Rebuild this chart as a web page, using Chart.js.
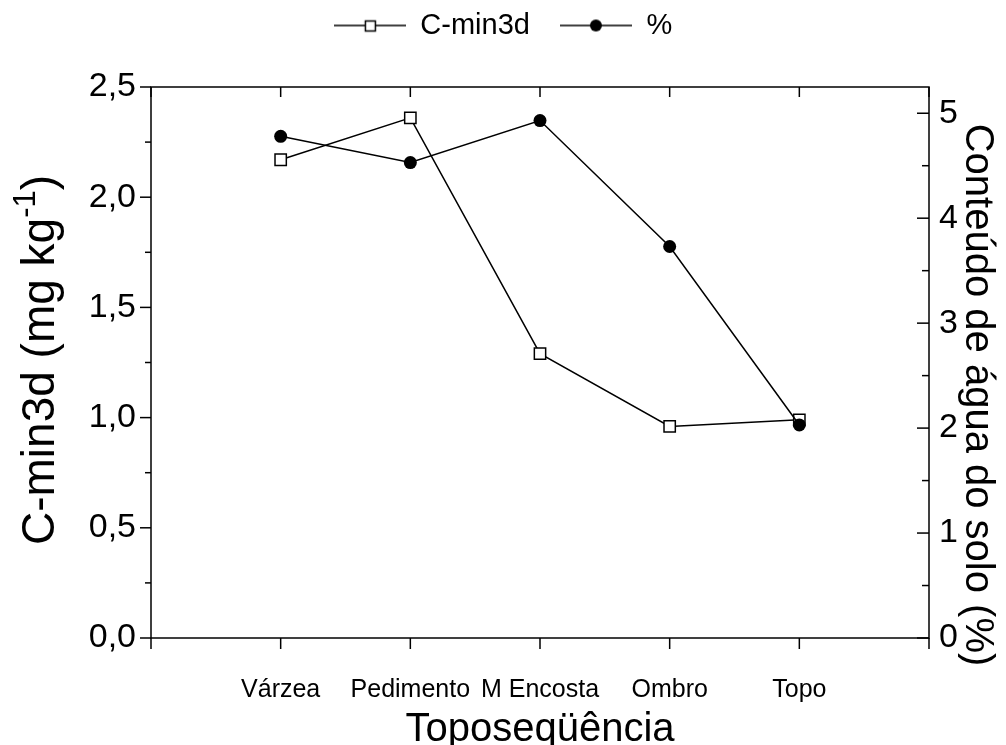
<!DOCTYPE html>
<html>
<head>
<meta charset="utf-8">
<script src="https://cdn.jsdelivr.net/npm/chart.js@4.4.1/dist/chart.umd.min.js"></script>
<style>
  html, body { margin: 0; padding: 0; background: #fff; }
  #wrap { width: 1006px; height: 745px; }
</style>
</head>
<body>
<div id="wrap"><canvas id="myChart"></canvas></div>
<script>
// categorias da toposequencia
const categorias = ['Várzea', 'Pedimento', 'M Encosta', 'Ombro', 'Topo'];
// C-min3d (mg kg-1), eixo esquerdo
const cmin3d = [2.17, 2.36, 1.29, 0.96, 0.99];
// conteudo de agua do solo (%), eixo direito
const agua = [4.78, 4.53, 4.93, 3.73, 2.03];
const yTicks = [0, 0.5, 1, 1.5, 2, 2.5];
const y2Ticks = [0, 1, 2, 3, 4, 5];

// eixo x com posicoes vazias nas pontas
const xLabels = [''].concat(categorias, ['']);

const fonte = "'Liberation Sans', Arial, sans-serif";
Chart.defaults.font.family = fonte;
Chart.defaults.color = '#000';

function legendIcon(style) {
    const c = document.createElement('canvas');
    c.width = 72;
    c.height = 20;
    const g = c.getContext('2d');
    g.strokeStyle = '#000';
    g.lineWidth = 1.5;
    g.beginPath();
    g.moveTo(0, 10);
    g.lineTo(72, 10);
    g.stroke();
    if (style === 'rect') {
        g.fillStyle = '#fff';
        g.fillRect(31.5, 5.5, 10, 10);
        g.strokeRect(31.5, 5.5, 10, 10);
    } else {
        g.fillStyle = '#000';
        g.beginPath();
        g.arc(36, 10, 6, 0, Math.PI * 2);
        g.fill();
    }
    return c;
}
const icons = [legendIcon('rect'), legendIcon('circle')];

// moldura e marcas dos eixos
const moldura = {
    id: 'moldura',
    afterDraw(chart) {
        const { ctx, chartArea: a, scales } = chart;
        ctx.save();
        ctx.strokeStyle = '#000';
        ctx.lineWidth = 1.5;
        ctx.strokeRect(a.left, a.top, a.right - a.left, a.bottom - a.top);
        const seg = (x1, y1, x2, y2) => {
            ctx.beginPath();
            ctx.moveTo(x1, y1);
            ctx.lineTo(x2, y2);
            ctx.stroke();
        };
        for (let i = 0; i <= 10; i++) {
            const y = scales.y.getPixelForValue(i * 0.25);
            seg(a.left - (i % 2 === 0 ? 11 : 6), y, a.left, y);
        }
        for (let i = 0; i <= 10; i++) {
            const y = scales.y2.getPixelForValue(i * 0.5);
            seg(a.right - (i % 2 === 0 ? 12 : 7), y, a.right, y);
        }
        for (let i = 0; i < xLabels.length; i++) {
            const x = scales.x.getPixelForValue(i);
            seg(x, a.bottom, x, a.bottom + 11);
            seg(x, a.top, x, a.top + 10);
        }
        ctx.restore();
    }
};

// titulos dos eixos verticais (com expoente)
const titulos = {
    id: 'titulos',
    afterDraw(chart) {
        const { ctx } = chart;
        ctx.save();
        ctx.fillStyle = '#000';
        ctx.textBaseline = 'middle';
        ctx.textAlign = 'left';
        const parts = [['C-min3d (mg kg', '46px ' + fonte, 0], ['-1', '31px ' + fonte, -15], [')', '46px ' + fonte, 0]];
        ctx.translate(41, 545);
        ctx.rotate(-Math.PI / 2);
        let x = 0;
        parts.forEach(p => {
            ctx.font = p[1];
            ctx.fillText(p[0], x, p[2]);
            x += ctx.measureText(p[0]).width;
        });
        ctx.restore();

        ctx.save();
        ctx.fillStyle = '#000';
        ctx.textBaseline = 'middle';
        ctx.textAlign = 'center';
        ctx.font = '40px ' + fonte;
        ctx.translate(977, 395);
        ctx.rotate(Math.PI / 2);
        ctx.fillText('Conteúdo de água do solo (%)', 0, 0);
        ctx.restore();
    }
};

const ctx = document.getElementById('myChart').getContext('2d');
const myChart = new Chart(ctx, {
    type: 'line',
    data: {
        labels: xLabels,
        datasets: [{
            label: 'C-min3d',
            data: [null].concat(cmin3d, [null]),
            yAxisID: 'y',
            borderColor: '#000',
            borderWidth: 1.5,
            tension: 0,
            pointStyle: 'rect',
            pointRadius: 8,
            pointBackgroundColor: '#fff',
            pointBorderColor: '#000',
            pointBorderWidth: 1.5,
            order: 1
        }, {
            label: '%',
            data: [null].concat(agua, [null]),
            yAxisID: 'y2',
            borderColor: '#000',
            borderWidth: 1.5,
            tension: 0,
            pointStyle: 'circle',
            pointRadius: 6.5,
            pointBackgroundColor: '#000',
            pointBorderColor: '#000',
            pointBorderWidth: 0,
            order: 0
        }]
    },
    options: {
        responsive: true,
        maintainAspectRatio: false,
        animation: false,
        layout: { padding: { top: -19, left: 0, right: 0, bottom: 0 } },
        plugins: {
            tooltip: { enabled: false },
            legend: {
                position: 'top',
                labels: {
                    usePointStyle: true,
                    pointStyleWidth: 72,
                    padding: 30,
                    font: { size: 29 },
                    generateLabels(chart) {
                        return chart.data.datasets.map((ds, i) => ({
                            text: ds.label,
                            datasetIndex: i,
                            pointStyle: icons[i],
                            fillStyle: '#000',
                            strokeStyle: '#000',
                            lineWidth: 0,
                            fontColor: '#000',
                            hidden: false
                        }));
                    }
                }
            }
        },
        scales: {
            x: {
                type: 'category',
                offset: false,
                grid: { display: false, drawTicks: false },
                border: { display: false },
                ticks: {
                    autoSkip: false,
                    maxRotation: 0,
                    padding: 37,
                    font: { size: 25 }
                },
                title: {
                    display: true,
                    text: 'Toposeqüência',
                    font: { size: 40, lineHeight: 1 },
                    padding: { top: 0, bottom: -5 }
                },
                afterFit(scale) { scale.height = 107; }
            },
            xTop: {
                type: 'category',
                position: 'top',
                offset: false,
                grid: { display: false, drawTicks: false },
                border: { display: false },
                ticks: { display: false },
                afterFit(scale) { scale.height = 37; }
            },
            y: {
                position: 'left',
                min: 0,
                max: 2.5,
                grid: { display: false, drawTicks: false },
                border: { display: false },
                afterBuildTicks(scale) { scale.ticks = yTicks.map(v => ({ value: v })); },
                ticks: {
                    padding: 15,
                    font: { size: 34 },
                    callback: v => v.toFixed(1).replace('.', ',')
                },
                afterFit(scale) { scale.width = 151; }
            },
            y2: {
                position: 'right',
                min: 0,
                max: 5.25,
                grid: { display: false, drawTicks: false },
                border: { display: false },
                afterBuildTicks(scale) { scale.ticks = y2Ticks.map(v => ({ value: v })); },
                ticks: {
                    padding: 10,
                    font: { size: 34 }
                },
                afterFit(scale) { scale.width = 77; }
            }
        }
    },
    plugins: [moldura, titulos]
});
</script>
</body>
</html>
